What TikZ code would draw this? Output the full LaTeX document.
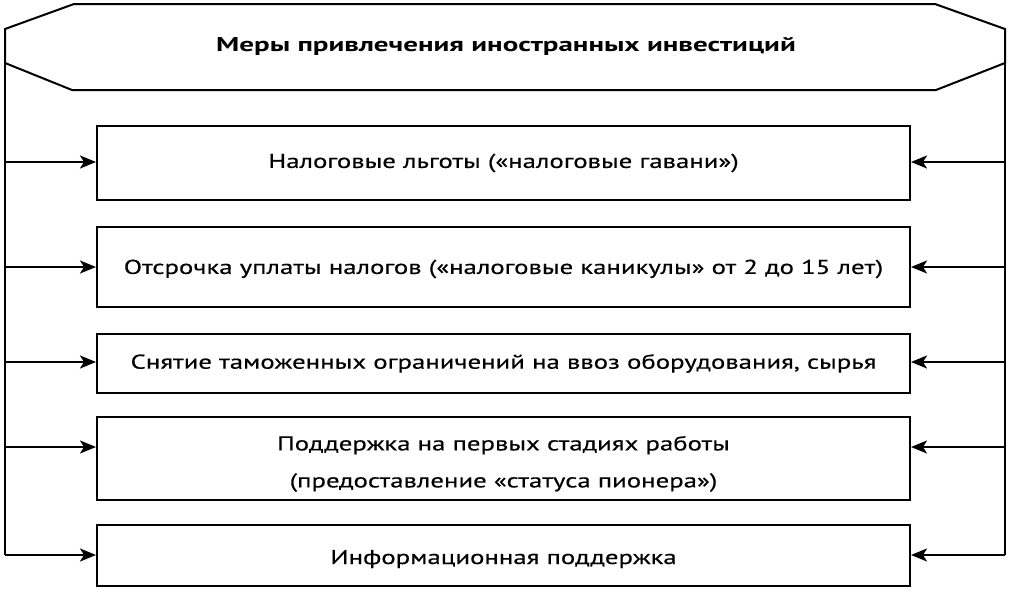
\documentclass[tikz,border=0pt]{standalone}
\usepackage{fontspec}
\setmainfont{PT Sans}
\newfontfamily\boxfont[FakeStretch=1.34,FakeBold=0.4]{PT Sans}
\newfontfamily\titlefont[FakeStretch=1.45]{PT Sans}
\usetikzlibrary{arrows.meta}
\newcommand{\lowered}[2]{\raisebox{-#1}[\height][\depth]{#2}}
\begin{document}
\begin{tikzpicture}[x=1pt,y=-1pt,
  line width=2pt,
  box/.style={draw, line width=2pt, minimum width=813pt, inner sep=0pt, align=center, font=\boxfont\fontsize{20}{37}\selectfont},
  arr/.style={-{Stealth[length=16pt,width=13pt,inset=4pt]}, line width=2pt}]
\useasboundingbox (0,0) rectangle (1013,592);
% header octagon
\draw[line join=miter] (74,4) -- (935,4) -- (1005,29) -- (1005,63) -- (936,90) -- (72,90) -- (5,63) -- (5,29) -- cycle;
\node[font=\titlefont\bfseries\fontsize{20}{22}\selectfont] (title) at (506,46) {Меры привлечения иностранных инвестиций};
\coordinate (LT) at (5,63);
\coordinate (RT) at (1005,63);
% boxes
\node[box, minimum height=74pt] (b1) at (503.5,163) {Налоговые льготы («налоговые гавани»)};
\node[box, minimum height=80pt] (b2) at (503.5,267) {\lowered{2pt}{Отсрочка уплаты налогов («налоговые каникулы» от 2 до 15 лет)}};
\node[box, minimum height=59pt] (b3) at (503.5,363.5) {Снятие таможенных ограничений на ввоз оборудования, сырья};
\node[box, minimum height=83pt] (b4) at (503.5,458.5) {\lowered{3pt}{\begin{tabular}{@{}c@{}}Поддержка на первых стадиях работы\\(предоставление «статуса пионера»)\end{tabular}}};
\node[box, minimum height=61pt] (b5) at (503.5,555) {\lowered{4pt}{Информационная поддержка}};
% side coordinates
\coordinate (L1) at (5,162); \coordinate (R1) at (1005,162);
\coordinate (L2) at (5,267); \coordinate (R2) at (1005,267);
\coordinate (L3) at (5,362); \coordinate (R3) at (1005,362);
\coordinate (L4) at (5,447); \coordinate (R4) at (1005,447);
\coordinate (L5) at (5,555); \coordinate (R5) at (1005,555);
% vertical trunks
\draw (LT) -- (L5);
\draw (RT) -- (R5);
% arrows
\foreach \i in {1,...,5}{
  \draw[arr] (L\i) -- (L\i -| b\i.west);
  \draw[arr] (R\i) -- (R\i -| b\i.east);
}
\end{tikzpicture}
\end{document}
